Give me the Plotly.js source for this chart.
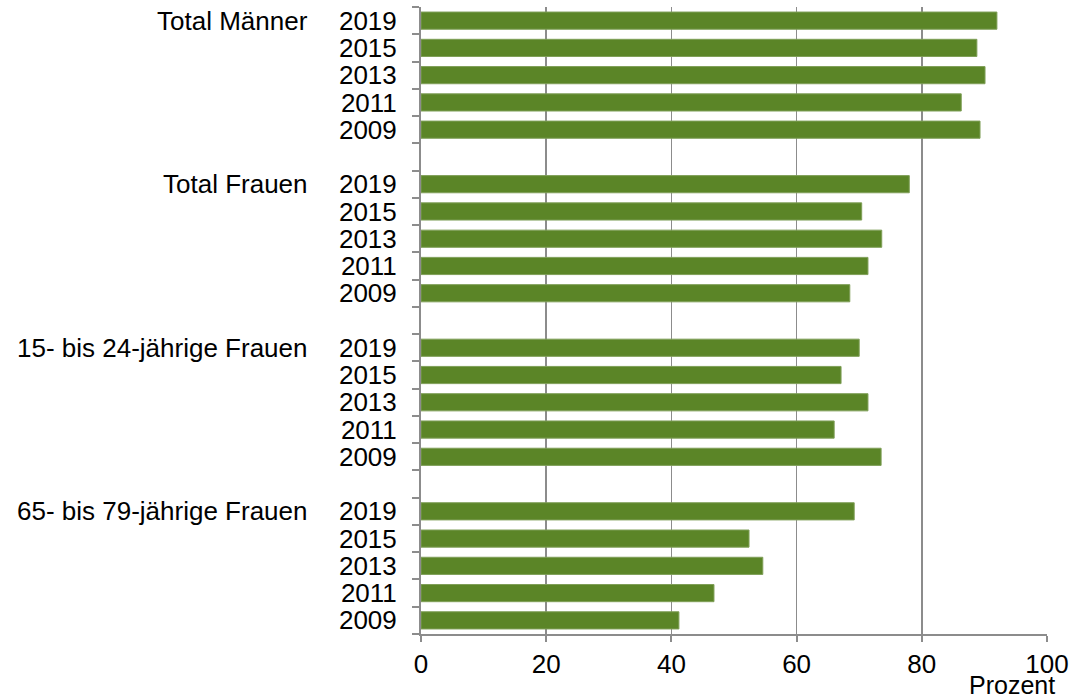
<!DOCTYPE html>
<html>
<head>
<meta charset="utf-8">
<script src="https://cdn.plot.ly/plotly-3.0.1.min.js"></script>
<style>html,body{margin:0;padding:0;background:#fff;}#chart{width:1073px;height:698px;}</style>
</head>
<body>
<div id="chart"></div>
<script>
const groups = ["Total Männer", "Total Frauen", "15- bis 24-jährige Frauen", "65- bis 79-jährige Frauen"];
const years = ["2019", "2015", "2013", "2011", "2009"];
const totalMaenner = [92.0, 88.8, 90.1, 86.3, 89.3];
const totalFrauen = [78.0, 70.4, 73.6, 71.4, 68.5];
const frauen15bis24 = [70.0, 67.1, 71.4, 66.0, 73.5];
const frauen65bis79 = [69.2, 52.4, 54.6, 46.8, 41.2];
const groupValues = [totalMaenner, totalFrauen, frauen15bis24, frauen65bis79];

const FONT = 'Liberation Sans, Arial, sans-serif';
const xs = [], ys = [], tickvals = [], ticktext = [], annotations = [];
const slotsPerGroup = years.length + 1;
groups.forEach((g, gi) => {
  years.forEach((yr, yi) => {
    const pos = gi * slotsPerGroup + yi;
    xs.push(groupValues[gi][yi]);
    ys.push(pos);
    tickvals.push(pos);
    ticktext.push(yr);
  });
  annotations.push({
    text: g, xref: 'paper', yref: 'y', x: -0.177, y: gi * slotsPerGroup,
    xanchor: 'right', yanchor: 'middle', showarrow: false,
    font: {size: 26, color: '#000', family: FONT}
  });
});
const nSlots = groups.length * slotsPerGroup - 1;
const boundaries = [];
for (let i = 0; i <= nSlots; i++) boundaries.push(i - 0.5);

annotations.push({
  text: 'Prozent', xref: 'paper', yref: 'paper', x: 0.944, y: -0.081,
  xanchor: 'center', yanchor: 'middle', showarrow: false,
  font: {size: 25, color: '#000', family: FONT}
});

const trace = {
  type: 'bar', orientation: 'h', x: xs, y: ys, width: 0.63,
  marker: {color: '#5b8527', line: {color: '#7f9f58', width: 1}},
  hoverinfo: 'x'
};

const layout = {
  width: 1073, height: 698,
  margin: {l: 421, r: 26, t: 7, b: 64},
  paper_bgcolor: '#fff', plot_bgcolor: '#fff',
  showlegend: false,
  font: {family: FONT, size: 26, color: '#000'},
  xaxis: {
    range: [0, 100], tickvals: [0, 20, 40, 60, 80, 100],
    showgrid: true, gridcolor: '#8c8c8c', gridwidth: 1.5,
    zeroline: false, showline: true, linecolor: '#8c8c8c', linewidth: 2,
    ticks: 'outside', ticklen: 6, tickcolor: '#8c8c8c', tickwidth: 2,
    tickfont: {size: 26, color: '#000'}, fixedrange: true
  },
  yaxis: {
    range: [nSlots - 0.5, -0.5], tickvals: tickvals, ticktext: ticktext,
    showgrid: false, zeroline: false, showline: true, linecolor: '#8c8c8c', linewidth: 2,
    ticks: '', ticklabelstandoff: 17,
    minor: {tickvals: boundaries, ticks: 'outside', ticklen: 7, tickcolor: '#8c8c8c', tickwidth: 2, showgrid: false},
    tickfont: {size: 26, color: '#000'}, fixedrange: true
  },
  annotations: annotations
};

Plotly.newPlot('chart', [trace], layout, {displayModeBar: false, staticPlot: true});
</script>
</body>
</html>
